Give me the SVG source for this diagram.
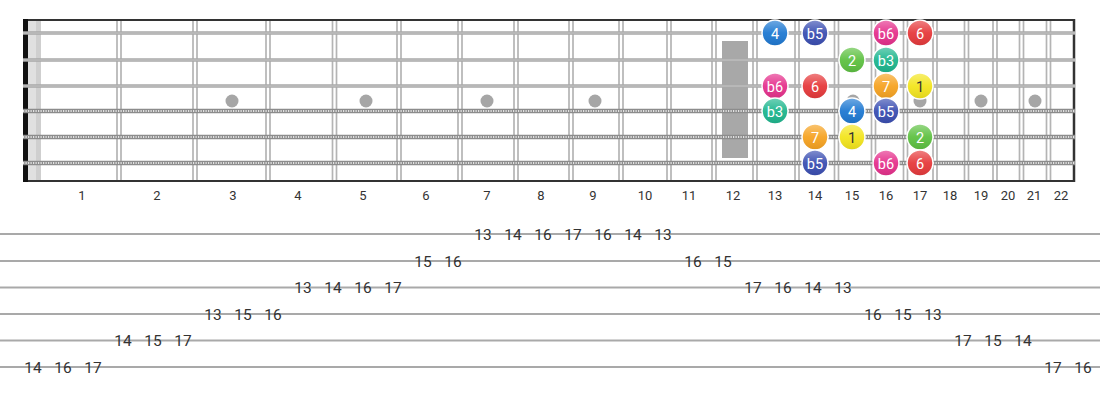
<svg xmlns="http://www.w3.org/2000/svg" width="1100" height="400" viewBox="0 0 1100 400">
<defs>
<linearGradient id="gloss" x1="0" y1="0" x2="0" y2="1">
<stop offset="0" stop-color="#fff" stop-opacity="0.35"/>
<stop offset="0.5" stop-color="#fff" stop-opacity="0.05"/>
<stop offset="1" stop-color="#000" stop-opacity="0.08"/>
</linearGradient>
<g id="fret" stroke="#b4b4b4" stroke-width="1.7"><line x1="-2" y1="20" x2="-2" y2="181"/><line x1="2" y1="20" x2="2" y2="181"/></g>
</defs>
<style>
.plain{stroke:#a8a8a8;stroke-width:3.4}
.plainc{stroke:#cfcfcf;stroke-width:0.8}
.wound{stroke:#8c8c8c;stroke-width:4.4}
.woundc{stroke:#e2e2e2;stroke-width:2;stroke-dasharray:1.2 1.3}
.dot{fill:#a6a6a6}
.fn{font-family:Roboto,"Liberation Sans",sans-serif;font-size:13px;fill:#333;text-anchor:middle}
.tab{stroke:#a9a9a9;stroke-width:2}
.tn{font-family:Roboto,"Liberation Sans",sans-serif;font-size:15.5px;fill:#333;text-anchor:middle}
.note circle{stroke:#fff;stroke-width:1.5}
.note text{font-family:Roboto,"Liberation Sans",sans-serif;font-size:14.5px;fill:#fff;text-anchor:middle}
.note .g{fill:url(#gloss);stroke:none}
.n4 circle.c{fill:#1f79d2}
.nb5 circle.c{fill:#3b4fb2}
.nb6 circle.c{fill:#e5318c}
.n6 circle.c{fill:#e63a3c}
.n2 circle.c{fill:#5ec142}
.nb3 circle.c{fill:#1fb68e}
.n7 circle.c{fill:#f6a322}
.n1 circle.c{fill:#f3e51e}
.n1 text{fill:#333}
</style>
<rect width="1100" height="400" fill="#fff"/>
<g id="fretboard">
<rect x="28" y="21" width="13" height="160" fill="#e0e0e0"/>
<rect x="36" y="21" width="5" height="160" fill="#cfcfcf"/>
<rect x="722" y="41" width="26" height="117" fill="#a8a8a8"/>
<g class="dots">
<circle class="dot" cx="232" cy="101" r="6.5"/>
<circle class="dot" cx="366" cy="101" r="6.5"/>
<circle class="dot" cx="487" cy="101" r="6.5"/>
<circle class="dot" cx="595" cy="101" r="6.5"/>
<circle class="dot" cx="853" cy="101" r="6.5"/>
<circle class="dot" cx="920" cy="101" r="6.5"/>
<circle class="dot" cx="981" cy="101" r="6.5"/>
<circle class="dot" cx="1035" cy="101" r="6.5"/>
</g>
<g class="fr">
<use href="#fret" x="119"/><use href="#fret" x="195"/><use href="#fret" x="268"/><use href="#fret" x="334.5"/>
<use href="#fret" x="399"/><use href="#fret" x="460"/><use href="#fret" x="516"/><use href="#fret" x="571"/>
<use href="#fret" x="621"/><use href="#fret" x="669"/><use href="#fret" x="714"/><use href="#fret" x="755"/>
<use href="#fret" x="797"/><use href="#fret" x="836.5"/><use href="#fret" x="873.5"/><use href="#fret" x="905.5"/>
<use href="#fret" x="935"/><use href="#fret" x="966.5"/><use href="#fret" x="995"/><use href="#fret" x="1021.5"/>
<use href="#fret" x="1048.5"/>
</g>
<line x1="23" y1="20" x2="1075" y2="20" stroke="#333" stroke-width="2"/>
<line x1="23" y1="181" x2="1075" y2="181" stroke="#333" stroke-width="2"/>
<line x1="1074" y1="19" x2="1074" y2="182" stroke="#333" stroke-width="2.5"/>
<line x1="25.5" y1="19" x2="25.5" y2="182" stroke="#111" stroke-width="5"/>
<g class="strings">
<line class="plain" x1="23" y1="33" x2="1075" y2="33"/><line class="plainc" x1="23" y1="33" x2="1075" y2="33"/>
<line class="plain" x1="23" y1="60" x2="1075" y2="60"/><line class="plainc" x1="23" y1="60" x2="1075" y2="60"/>
<line class="plain" x1="23" y1="86" x2="1075" y2="86"/><line class="plainc" x1="23" y1="86" x2="1075" y2="86"/>
<line class="wound" x1="23" y1="111" x2="1075" y2="111"/><line class="woundc" x1="23" y1="111" x2="1075" y2="111"/>
<line class="wound" x1="23" y1="137" x2="1075" y2="137"/><line class="woundc" x1="23" y1="137" x2="1075" y2="137"/>
<line class="wound" x1="23" y1="163" x2="1075" y2="163"/><line class="woundc" x1="23" y1="163" x2="1075" y2="163"/>
</g>
</g>
<g id="fret-numbers">
<text class="fn" x="82" y="200">1</text><text class="fn" x="157" y="200">2</text><text class="fn" x="233" y="200">3</text>
<text class="fn" x="298" y="200">4</text><text class="fn" x="363" y="200">5</text><text class="fn" x="426" y="200">6</text>
<text class="fn" x="487" y="200">7</text><text class="fn" x="541" y="200">8</text><text class="fn" x="593" y="200">9</text>
<text class="fn" x="645" y="200">10</text><text class="fn" x="689" y="200">11</text><text class="fn" x="733" y="200">12</text>
<text class="fn" x="775" y="200">13</text><text class="fn" x="815" y="200">14</text><text class="fn" x="852" y="200">15</text>
<text class="fn" x="886" y="200">16</text><text class="fn" x="920" y="200">17</text><text class="fn" x="950" y="200">18</text>
<text class="fn" x="981" y="200">19</text><text class="fn" x="1008" y="200">20</text><text class="fn" x="1034" y="200">21</text>
<text class="fn" x="1061" y="200">22</text>
</g>
<g id="notes">
<g id="s1-13" class="note n4"><circle class="c" cx="775" cy="33" r="13"/><circle class="g" cx="775" cy="33" r="12.5"/><text x="775" y="38.5">4</text></g>
<g id="s1-14" class="note nb5"><circle class="c" cx="815" cy="33" r="13"/><circle class="g" cx="815" cy="33" r="12.5"/><text x="815" y="38.5">b5</text></g>
<g id="s1-16" class="note nb6"><circle class="c" cx="886" cy="33" r="13"/><circle class="g" cx="886" cy="33" r="12.5"/><text x="886" y="38.5">b6</text></g>
<g id="s1-17" class="note n6"><circle class="c" cx="920" cy="33" r="13"/><circle class="g" cx="920" cy="33" r="12.5"/><text x="920" y="38.5">6</text></g>
<g id="s2-15" class="note n2"><circle class="c" cx="852" cy="60" r="13"/><circle class="g" cx="852" cy="60" r="12.5"/><text x="852" y="65.5">2</text></g>
<g id="s2-16" class="note nb3"><circle class="c" cx="886" cy="60" r="13"/><circle class="g" cx="886" cy="60" r="12.5"/><text x="886" y="65.5">b3</text></g>
<g id="s3-13" class="note nb6"><circle class="c" cx="775" cy="86" r="13"/><circle class="g" cx="775" cy="86" r="12.5"/><text x="775" y="91.5">b6</text></g>
<g id="s3-14" class="note n6"><circle class="c" cx="815" cy="86" r="13"/><circle class="g" cx="815" cy="86" r="12.5"/><text x="815" y="91.5">6</text></g>
<g id="s3-16" class="note n7"><circle class="c" cx="886" cy="86" r="13"/><circle class="g" cx="886" cy="86" r="12.5"/><text x="886" y="91.5">7</text></g>
<g id="s3-17" class="note n1"><circle class="c" cx="920" cy="86" r="13"/><circle class="g" cx="920" cy="86" r="12.5"/><text x="920" y="91.5">1</text></g>
<g id="s4-13" class="note nb3"><circle class="c" cx="775" cy="111" r="13"/><circle class="g" cx="775" cy="111" r="12.5"/><text x="775" y="116.5">b3</text></g>
<g id="s4-15" class="note n4"><circle class="c" cx="852" cy="111" r="13"/><circle class="g" cx="852" cy="111" r="12.5"/><text x="852" y="116.5">4</text></g>
<g id="s4-16" class="note nb5"><circle class="c" cx="886" cy="111" r="13"/><circle class="g" cx="886" cy="111" r="12.5"/><text x="886" y="116.5">b5</text></g>
<g id="s5-14" class="note n7"><circle class="c" cx="815" cy="137" r="13"/><circle class="g" cx="815" cy="137" r="12.5"/><text x="815" y="142.5">7</text></g>
<g id="s5-15" class="note n1"><circle class="c" cx="852" cy="137" r="13"/><circle class="g" cx="852" cy="137" r="12.5"/><text x="852" y="142.5">1</text></g>
<g id="s5-17" class="note n2"><circle class="c" cx="920" cy="137" r="13"/><circle class="g" cx="920" cy="137" r="12.5"/><text x="920" y="142.5">2</text></g>
<g id="s6-14" class="note nb5"><circle class="c" cx="815" cy="163" r="13"/><circle class="g" cx="815" cy="163" r="12.5"/><text x="815" y="168.5">b5</text></g>
<g id="s6-16" class="note nb6"><circle class="c" cx="886" cy="163" r="13"/><circle class="g" cx="886" cy="163" r="12.5"/><text x="886" y="168.5">b6</text></g>
<g id="s6-17" class="note n6"><circle class="c" cx="920" cy="163" r="13"/><circle class="g" cx="920" cy="163" r="12.5"/><text x="920" y="168.5">6</text></g>
</g>
<g id="tab">
<g id="tab-lines">
<line class="tab" x1="0" y1="234" x2="1100" y2="234"/>
<line class="tab" x1="0" y1="261" x2="1100" y2="261"/>
<line class="tab" x1="0" y1="287.5" x2="1100" y2="287.5"/>
<line class="tab" x1="0" y1="314" x2="1100" y2="314"/>
<line class="tab" x1="0" y1="340.5" x2="1100" y2="340.5"/>
<line class="tab" x1="0" y1="367" x2="1100" y2="367"/>
</g>
<g id="tab-numbers">
<text class="tn" x="33" y="372.5">14</text><text class="tn" x="63" y="372.5">16</text><text class="tn" x="93" y="372.5">17</text>
<text class="tn" x="123" y="346">14</text><text class="tn" x="153" y="346">15</text><text class="tn" x="183" y="346">17</text>
<text class="tn" x="213" y="319.5">13</text><text class="tn" x="243" y="319.5">15</text><text class="tn" x="273" y="319.5">16</text>
<text class="tn" x="303" y="293">13</text><text class="tn" x="333" y="293">14</text><text class="tn" x="363" y="293">16</text><text class="tn" x="393" y="293">17</text>
<text class="tn" x="423" y="266.5">15</text><text class="tn" x="453" y="266.5">16</text>
<text class="tn" x="483" y="239.5">13</text><text class="tn" x="513" y="239.5">14</text><text class="tn" x="543" y="239.5">16</text><text class="tn" x="573" y="239.5">17</text>
<text class="tn" x="603" y="239.5">16</text><text class="tn" x="633" y="239.5">14</text><text class="tn" x="663" y="239.5">13</text>
<text class="tn" x="693" y="266.5">16</text><text class="tn" x="723" y="266.5">15</text>
<text class="tn" x="753" y="293">17</text><text class="tn" x="783" y="293">16</text><text class="tn" x="813" y="293">14</text><text class="tn" x="843" y="293">13</text>
<text class="tn" x="873" y="319.5">16</text><text class="tn" x="903" y="319.5">15</text><text class="tn" x="933" y="319.5">13</text>
<text class="tn" x="963" y="346">17</text><text class="tn" x="993" y="346">15</text><text class="tn" x="1023" y="346">14</text>
<text class="tn" x="1053" y="372.5">17</text><text class="tn" x="1083" y="372.5">16</text>
</g>
</g>
</svg>
